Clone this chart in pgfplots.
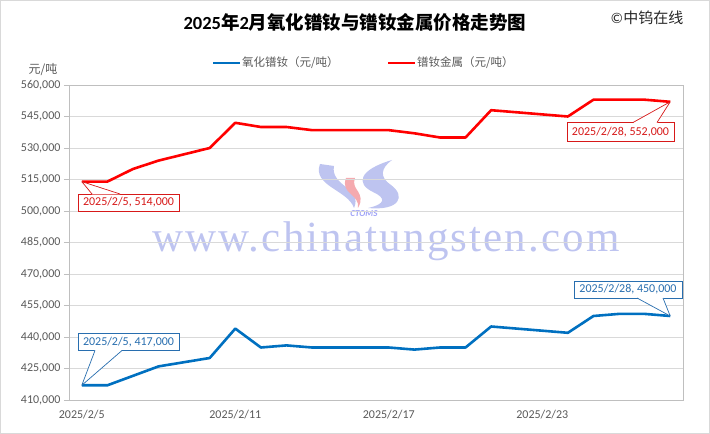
\documentclass[border=0pt]{standalone}
\usepackage{pgfplots}
\pgfplotsset{compat=1.18}
\usepackage{fontspec}
\setmainfont{Carlito}
\newfontfamily\cjk{Noto Sans CJK SC}
\newfontfamily\wmfont[LetterSpace=5]{Liberation Serif}
\definecolor{redl}{RGB}{255,0,0}
\definecolor{bluel}{RGB}{0,112,192}
\definecolor{txt}{RGB}{89,89,89}
\definecolor{gridc}{RGB}{217,217,217}
\definecolor{axc}{RGB}{191,191,191}
\definecolor{wm}{RGB}{190,196,240}
\definecolor{wmpink}{RGB}{245,170,175}
\definecolor{calred}{RGB}{215,25,25}
\definecolor{calblue}{RGB}{40,110,175}
\begin{document}
\begin{tikzpicture}[x=1pt,y=1pt]
\useasboundingbox (0,0) rectangle (710,434);
\draw[gridc] (0.5,0.5) rectangle (709.5,433.5);
\node[text=wm] at (386,193) {\fontsize{43}{43}\selectfont\wmfont www.chinatungsten.com};
% logo
\fill[wm] (320,270) .. controls (312,248) and (348,244) .. (354,226) .. controls (363,246) and (330,248) .. (334,268) -- cycle;
\fill[wmpink] (346,256) .. controls (340,240) and (360,240) .. (358,226) .. controls (367,242) and (350,244) .. (355,256) -- cycle;
\fill[wm] (392,274) .. controls (358,264) and (356,250) .. (373,242) .. controls (386,236) and (386,230) .. (368,226) .. controls (400,223) and (406,238) .. (391,249) .. controls (379,257) and (381,266) .. (392,274);
\node[text=wm!70!blue!80!white] at (364,220) {\fontsize{9}{9}\selectfont\bfseries\itshape CTOMS};
\begin{axis}[
  at={(69pt,34pt)}, anchor=south west,
  width=614pt, height=315pt, scale only axis,
  xmin=4.5, xmax=28.5, ymin=410000, ymax=560000,
  xtick={5,11,17,23},
  xticklabels={2025/2/5,2025/2/11,2025/2/17,2025/2/23},
  ytick={410000,425000,440000,455000,470000,485000,500000,515000,530000,545000,560000},
  scaled y ticks=false,
  yticklabel style={/pgf/number format/.cd,fixed,1000 sep={,},assume math mode=true},
  ticklabel style={font=\fontsize{12}{14}\selectfont, text=txt},
  ymajorgrids, grid style={gridc, line width=0.8pt},
  axis line style={axc, line width=0.8pt},
  ytick pos=left, xtick pos=bottom,
  tick align=outside,
  ytick style={axc, line width=0.8pt},
  major tick length=5pt,
  xtick style={draw=none},
  xticklabel style={yshift=-2pt},
  clip=false,
]
\addplot[redl, line width=2.6pt, line join=round] coordinates {
(5,514000) (6,514000) (7,520000) (8,524000) (9,527000) (10,530000)
(11,542000) (12,540000) (13,540000) (14,538500) (15,538500) (16,538500)
(17,538500) (18,537000) (19,535000) (20,535000) (21,548000) (22,547000)
(23,546000) (24,545000) (25,553000) (26,553000) (27,553000) (28,552000)};
\addplot[bluel, line width=2.6pt, line join=round] coordinates {
(5,417000) (6,417000) (7,421500) (8,426000) (9,428000) (10,430000)
(11,444000) (12,435000) (13,436000) (14,435000) (15,435000) (16,435000)
(17,435000) (18,434000) (19,435000) (20,435000) (21,445000) (22,444000)
(23,443000) (24,442000) (25,450000) (26,451000) (27,451000) (28,450000)};
\coordinate (r1) at (axis cs:5,514000);
\coordinate (r2) at (axis cs:28,552000);
\coordinate (b1) at (axis cs:5,417000);
\coordinate (b2) at (axis cs:28,450000);
\end{axis}
% callouts
\tikzset{cal/.style={fill=white, line width=0.8pt, minimum height=17pt, inner sep=0pt, font=\fontsize{12}{14}\selectfont}}
\node[cal, draw=calred, text=calred, minimum width=101pt] at (128.5,231.5) {2025/2/5, 514,000};
\fill[white] (92,239.6) -- (r1) -- (120,239.6) -- cycle;
\draw[calred, line width=0.7pt, line join=round] (92,240) -- (r1) -- (120,240);
\node[cal, draw=calred, text=calred, minimum width=107pt, minimum height=19pt] at (620.5,302) {2025/2/28, 552,000};
\fill[white] (633,311.1) -- (r2) -- (657,311.1) -- cycle;
\draw[calred, line width=0.7pt, line join=round] (633,311.5) -- (r2) -- (657,311.5);
\node[cal, draw=calblue, text=calblue, minimum width=101pt] at (128.5,92) {2025/2/5, 417,000};
\fill[white] (95,83.9) -- (b1) -- (122,83.9) -- cycle;
\draw[calblue, line width=0.7pt, line join=round] (95,83.5) -- (b1) -- (122,83.5);
\node[cal, draw=calblue, text=calblue, minimum width=108pt] at (628,144.5) {2025/2/28, 450,000};
\fill[white] (637,136.4) -- (b2) -- (663,136.4) -- cycle;
\draw[calblue, line width=0.7pt, line join=round] (637,136) -- (b2) -- (663,136);
% titles and legend
\node at (355,412) {\fontsize{18.5}{20}\selectfont\bfseries 2025{\cjk\bfseries 年}2{\cjk\bfseries 月氧化镨钕与镨钕金属价格走势图}};
\node[text=black!85] at (647,416) {\fontsize{15}{16}\selectfont ©{\cjk 中钨在线}};
\node[text=txt] at (43,364) {\fontsize{12}{14}\selectfont\cjk 元/吨};
\draw[bluel, line width=2.6pt] (213,371) -- (240,371);
\node[anchor=west, text=txt, inner sep=1pt] at (241,371) {\fontsize{11.5}{14}\selectfont\cjk 氧化镨钕（元/吨）};
\draw[redl, line width=2.6pt] (388,371) -- (415,371);
\node[anchor=west, text=txt, inner sep=1pt] at (416,371) {\fontsize{11.5}{14}\selectfont\cjk 镨钕金属（元/吨）};
\end{tikzpicture}
\end{document}
